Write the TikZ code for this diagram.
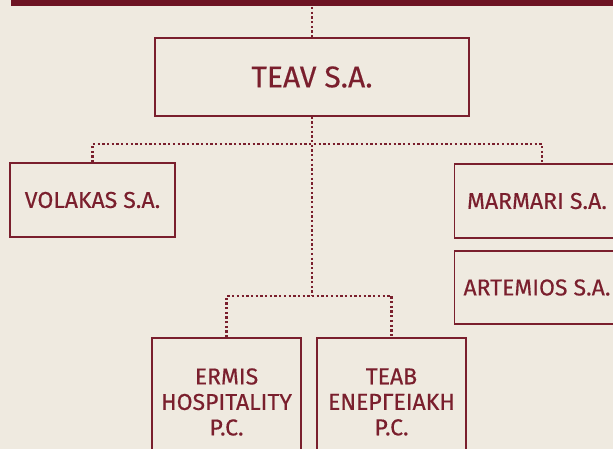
\documentclass[tikz,border=0pt]{standalone}
\usepackage{fontspec}
\setmainfont{Fira Sans}[FakeBold=0.4]
\definecolor{wine}{HTML}{7A1F2D}
\definecolor{bar}{HTML}{6D1423}
\definecolor{paper}{HTML}{EFEAE0}
\tikzset{
  company/.style={draw=wine, line width=1.2pt, text=wine, align=center, inner sep=0pt,
    font=\fontsize{23}{25.5}\selectfont},
  link/.style={draw=wine, line width=2.3pt, dash pattern=on 2.3pt off 2.4pt}
}
\begin{document}
\begin{tikzpicture}[x=1pt,y=-1pt]
\useasboundingbox (0,0) rectangle (613,449);
\clip (0,0) rectangle (613,449);
\fill[paper] (0,0) rectangle (613,449);
\fill[bar] (11,0) rectangle (613,6);
\coordinate (barfoot) at (312,7);
\node[company, minimum width=314pt, minimum height=78pt, font=\fontsize{30}{34}\selectfont] (teav) at (312,77) {TEAV S.A.};
\node[company, minimum width=165pt, minimum height=74pt] (volakas) at (92.5,200) {VOLAKAS S.A.};
\node[company, minimum width=165pt, minimum height=74pt] (marmari) at (537,201) {MARMARI S.A.};
\node[company, minimum width=165pt, minimum height=73pt] (artemios) at (537,287.5) {ARTEMIOS S.A.};
\node[company, minimum width=149pt, minimum height=128pt] (ermis) at (226.5,402) {ERMIS\\HOSPITALITY\\P.C.};
\node[company, minimum width=149pt, minimum height=128pt] (teab) at (391.5,402) {TEAB\\ΕΝΕΡΓΕΙΑΚΗ\\P.C.};
\coordinate (fork) at (312,144);
\coordinate (lowfork) at (312,296);
% links
\draw[link] (barfoot) -- (teav.north);
\draw[link] (teav.south) -- (lowfork);
\draw[link] (volakas.north) |- (fork) -| ([xshift=5pt]marmari.north);
\draw[link] (ermis.north) |- (lowfork) -| (teab.north);
\end{tikzpicture}
\end{document}
